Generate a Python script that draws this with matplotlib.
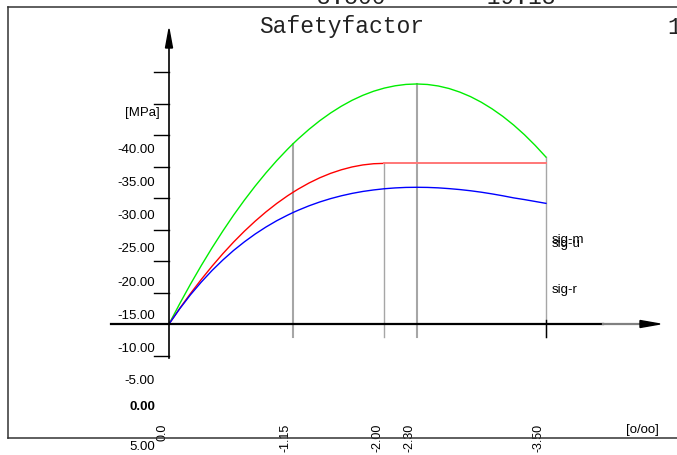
import matplotlib
matplotlib.use("Agg")
import matplotlib.pyplot as plt
from matplotlib.patches import Polygon
from matplotlib.transforms import ScaledTranslation

# ---------------- data ----------------
strain = [0.0, -0.1, -0.2, -0.3, -0.4, -0.5, -0.6, -0.7, -0.8, -0.9, -1.0, -1.1, -1.15,
          -1.2, -1.3, -1.4, -1.5, -1.6, -1.7, -1.8, -1.9, -2.0, -2.1, -2.2, -2.3,
          -2.4, -2.5, -2.6, -2.7, -2.8, -2.9, -3.0, -3.1, -3.2, -3.3, -3.4, -3.5]
sig_green = [0.0, -3.24, -6.34, -9.29, -12.10, -14.76, -17.29, -19.66, -21.89, -23.98, -25.93, -27.73, -28.58,
             -29.39, -30.90, -32.27, -33.49, -34.57, -35.51, -36.30, -36.95, -37.45, -37.81, -38.03, -38.10,
             -38.02, -37.78, -37.38, -36.81, -36.09, -35.20, -34.15, -32.95, -31.58, -30.05, -28.35, -26.50]
sig_red = [0.0, -2.49, -4.85, -7.08, -9.18, -11.16, -13.01, -14.73, -16.32, -17.79, -19.13, -20.34, -20.89,
           -21.42, -22.38, -23.21, -23.91, -24.48, -24.93, -25.25, -25.44, -25.50, -25.50, -25.50, -25.50,
           -25.50, -25.50, -25.50, -25.50, -25.50, -25.50, -25.50, -25.50, -25.50, -25.50, -25.50, -25.50]
sig_blue = [0.0, -2.43, -4.65, -6.66, -8.50, -10.16, -11.68, -13.04, -14.28, -15.39, -16.39, -17.27, -17.68,
            -18.06, -18.76, -19.37, -19.90, -20.35, -20.73, -21.04, -21.28, -21.47, -21.60, -21.68, -21.70,
            -21.68, -21.61, -21.49, -21.34, -21.15, -20.92, -20.65, -20.35, -20.02, -19.75, -19.45, -19.15]

x_ticks = [0.0, -1.15, -2.0, -2.3, -3.5]
x_tick_labels = ["0.0", "-1.15", "-2.00", "-2.30", "-3.50"]
# gray reference lines: strain and the curve they reach
ref_strain = [-1.15, -2.0, -2.3, -3.5]
ref_curve = ["green", "red", "green", "green"]

y_ticks = [-40, -35, -30, -25, -20, -15, -10, -5, 5]
y_label_text = ["-40.00", "-35.00", "-30.00", "-25.00", "-20.00", "-15.00", "-10.00", "-5.00", "0.00", "5.00"]
y_label_pos = [-27.6, -22.4, -17.1, -11.9, -6.5, -1.27, 3.97, 9.05, 13.2, 19.5]

series_names = ["sig-m", "sig-u", "sig-r"]
header_values = ["-3.500", "-19.13", "-3"]

# ---------------- layout ----------------
W, H = 677, 455
X0, Y0 = 169.0, 324.0        # origin in pixels
SX, SY = 107.7, 6.3          # pixels per unit

fig = plt.figure(figsize=(W / 100, H / 100), dpi=100)
ax = fig.add_axes([0, 0, 1, 1])
ax.axis("off")
ax.set_xlim(X0 / SX, -(W - X0) / SX)
ax.set_ylim((H - Y0) / SY, -Y0 / SY)

def dx(px):
    return (X0 - px) / SX

def dy(py):
    return (py - Y0) / SY

sans = "Liberation Sans"
mono = "Liberation Mono"
curves = {"green": sig_green, "red": sig_red, "blue": sig_blue}

# frame
fig.add_artist(plt.Line2D([8 / W, 1], [1 - 7 / H, 1 - 7 / H], color="#333333", lw=1.1))
fig.add_artist(plt.Line2D([8 / W, 8 / W], [1 - 7 / H, 1 - 438 / H], color="#333333", lw=1.1))
fig.add_artist(plt.Line2D([8 / W, 1], [1 - 438 / H, 1 - 438 / H], color="#333333", lw=1.1))

# header
fig.text(342 / W, 1 - 27 / H, "Safetyfactor", family=mono, fontsize=16.6, ha="center", va="center", color="#222222")
fig.text(667 / W, 1 - 27 / H, "1", family=mono, fontsize=16.6, ha="left", va="center", color="#222222")
for xp, t in zip([303, 473, 663], header_values):
    fig.text(xp / W, 1 - 4.0 / H, t, family=mono, fontsize=16.6, ha="left", va="baseline", color="#222222")

# gray reference lines
for s, c, lw in zip(ref_strain, ref_curve, [1.5, 1.0, 1.5, 1.0]):
    top = curves[c][strain.index(s)]
    ax.plot([s, s], [dy(337), top], color="#a6a6a6", lw=lw, zorder=1)
ax.plot([x_ticks[-1], x_ticks[-1]], [dy(320), dy(337)], color="black", lw=1.0, zorder=3)

# curves
i2 = strain.index(-2.0)
ax.plot(strain, sig_green, color="#00ee00", lw=1.0, zorder=2)
ax.plot(strain[:i2 + 1], sig_red[:i2 + 1], color="#ff0000", lw=1.0, zorder=2)
ax.plot(strain[i2:], sig_red[i2:], color="#ff7777", lw=1.4, zorder=2)
ax.plot(strain, sig_blue, color="#0000ff", lw=1.0, zorder=2)

# x axis
ax.plot([dx(111), dx(603)], [0, 0], color="black", lw=1.6, zorder=4)
ax.plot([dx(603), dx(641)], [0, 0], color="#808080", lw=1.6, zorder=4)
ax.add_patch(Polygon([[dx(660), 0], [dx(640), dy(320.5)], [dx(640), dy(327.5)]],
                     closed=True, color="black", zorder=5))

# y axis
ax.plot([0, 0], [dy(358), dy(47)], color="black", lw=1.2, zorder=4)
ax.add_patch(Polygon([[0, dy(29)], [dx(165.5), dy(48)], [dx(172.5), dy(48)]],
                     closed=True, color="black", zorder=5))
for t in y_ticks:
    ax.plot([dx(154), 0], [t, t], color="black", lw=1.0, zorder=4)

# y labels
for t, p in zip(y_label_text, y_label_pos):
    ax.text(dx(155), p, t, family=sans, fontsize=9.5, ha="right", va="center",
            fontweight="bold" if t == "0.00" else "normal")
ax.text(dx(160), dy(113), "[MPa]", family=sans, fontsize=9.5, ha="right", va="center")

# x labels
off = ScaledTranslation(-7 / 100, 0, fig.dpi_scale_trans)
for s, t in zip(x_ticks, x_tick_labels):
    ax.text(s, dy(424), t, family=sans, fontsize=9, rotation=90, ha="center", va="top",
            transform=ax.transData + off)
ax.text(dx(626), dy(430), "[o/oo]", family=sans, fontsize=9.5, ha="left", va="center")

# series labels
for name, yp in zip(series_names, [243, 247, 293]):
    ax.text(dx(552), dy(yp), name, family=sans, fontsize=9.5, ha="left", va="baseline")

fig.savefig("out.png", dpi=100)
